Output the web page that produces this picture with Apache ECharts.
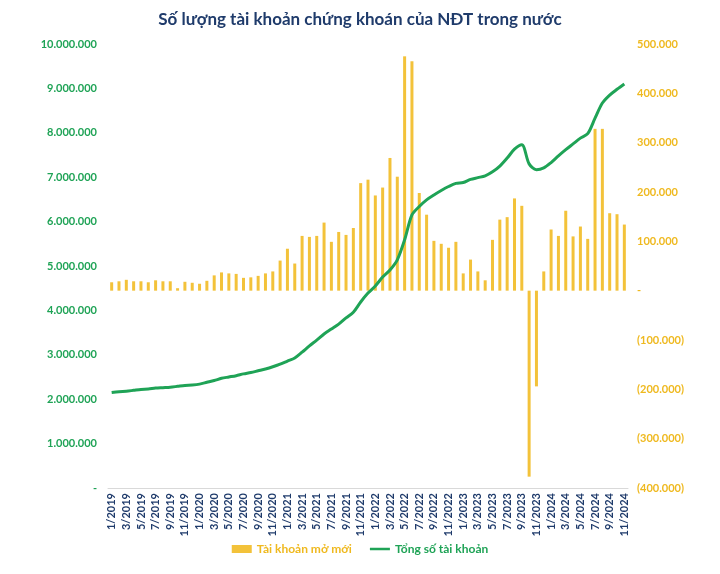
<!DOCTYPE html>
<html>
<head>
<meta charset="utf-8">
<script src="https://cdn.jsdelivr.net/npm/echarts@6/dist/echarts.min.js"></script>
<style>
html,body{margin:0;padding:0;background:#fff;}
#chart{width:720px;height:574px;}
</style>
</head>
<body>
<div id="chart"></div>
<script>
// Categories: months 1/2019 .. 11/2024
const months = [];
for (let y = 2019; y <= 2024; y++) {
  for (let m = 1; m <= 12; m++) {
    if (y === 2024 && m > 11) break;
    months.push(m + '/' + y);
  }
}

// New accounts opened per month (domestic investors)
const newAccounts = [
  17000, 19000, 22000, 19000, 19000, 17000, 21000, 19000, 19000, 5000, 18000, 16000,
  14000, 20000, 31000, 37000, 35000, 34000, 26000, 27000, 30000, 35000, 39000, 61000,
  85000, 55000, 111000, 109000, 111000, 138000, 99000, 119000, 113000, 127000, 218000, 225000,
  193000, 209000, 269000, 231000, 475000, 465000, 198000, 154000, 101000, 95000, 87000, 99000,
  35000, 63000, 39000, 21000, 103000, 144000, 149000, 187000, 172000, -377000, -194000, 39000,
  124000, 111000, 162000, 110000, 130000, 105000, 328000, 328000, 157000, 155000, 134000
];

// Total accounts
const totalAccounts = [
  2150000, 2170000, 2180000, 2200000, 2220000, 2230000, 2250000, 2260000, 2270000, 2290000, 2310000, 2320000,
  2340000, 2380000, 2420000, 2470000, 2500000, 2530000, 2570000, 2600000, 2640000, 2680000, 2730000, 2790000,
  2860000, 2930000, 3060000, 3200000, 3330000, 3470000, 3580000, 3690000, 3830000, 3960000, 4190000, 4390000,
  4550000, 4750000, 4910000, 5140000, 5590000, 6150000, 6340000, 6490000, 6600000, 6700000, 6790000, 6860000,
  6880000, 6950000, 6990000, 7030000, 7120000, 7250000, 7430000, 7630000, 7730000, 7300000, 7170000, 7210000,
  7330000, 7480000, 7620000, 7750000, 7880000, 7980000, 8330000, 8670000, 8850000, 8980000, 9100000
];

const titleText = 'Số lượng tài khoản chứng khoán của NĐT trong nước';
const seriesNames = ['Tài khoản mở mới', 'Tổng số tài khoản'];

const GREEN = '#1fa356';
const GOLD = '#f3c23a';
const GOLD_TEXT = '#efb91f';
const NAVY = '#1f3b6b';
const FONT = 'Lato, "Open Sans", sans-serif';

function dots(v) {
  return Math.abs(v).toString().replace(/\B(?=(\d{3})+(?!\d))/g, '.');
}

const chart = echarts.init(document.getElementById('chart'), null, {renderer: 'canvas'});
chart.setOption({
  animation: false,
  backgroundColor: '#ffffff',
  title: {
    text: titleText,
    left: 'center',
    top: 6,
    textStyle: {color: NAVY, fontSize: 17, fontWeight: 'bold', fontFamily: FONT}
  },
  legend: {
    bottom: 14,
    left: 'center',
    itemGap: 18,
    itemWidth: 20,
    itemHeight: 8,
    textStyle: {fontSize: 12, fontWeight: 'bold', fontFamily: FONT},
    data: [
      {name: seriesNames[0], icon: 'rect', textStyle: {color: GOLD_TEXT}},
      {name: seriesNames[1], icon: 'path://M0,0 H40 V5 H0 Z', textStyle: {color: GREEN}}
    ]
  },
  grid: {left: 108, right: 92, top: 44, bottom: 86},
  xAxis: {
    type: 'category',
    data: months,
    boundaryGap: true,
    axisLine: {lineStyle: {color: '#d9d9d9', width: 1}},
    axisTick: {show: false},
    axisLabel: {
      interval: 1,
      rotate: 90,
      margin: 5,
      color: NAVY,
      fontSize: 11,
      fontWeight: 'bold',
      fontFamily: FONT
    }
  },
  yAxis: [
    {
      type: 'value',
      min: 0,
      max: 10000000,
      interval: 1000000,
      splitLine: {show: false},
      axisLine: {show: false},
      axisTick: {show: false},
      axisLabel: {
        margin: 11,
        color: GREEN,
        fontSize: 11,
        fontWeight: 'bold',
        fontFamily: FONT,
        formatter: v => v === 0 ? '-' : dots(v)
      }
    },
    {
      type: 'value',
      min: -400000,
      max: 500000,
      interval: 100000,
      splitLine: {show: false},
      axisLine: {show: false},
      axisTick: {show: false},
      axisLabel: {
        margin: 9,
        color: GOLD_TEXT,
        fontSize: 11,
        fontWeight: 'bold',
        fontFamily: FONT,
        formatter: v => v === 0 ? '-' : (v < 0 ? '(' + dots(v) + ')' : dots(v))
      }
    }
  ],
  series: [
    {
      name: seriesNames[0],
      type: 'bar',
      yAxisIndex: 1,
      data: newAccounts,
      barWidth: 3,
      itemStyle: {color: GOLD}
    },
    {
      name: seriesNames[1],
      type: 'line',
      yAxisIndex: 0,
      data: totalAccounts,
      smooth: 0.3,
      showSymbol: false,
      symbol: 'none',
      lineStyle: {color: GREEN, width: 3},
      itemStyle: {color: GREEN},
      z: 3
    }
  ]
});
</script>
</body>
</html>
